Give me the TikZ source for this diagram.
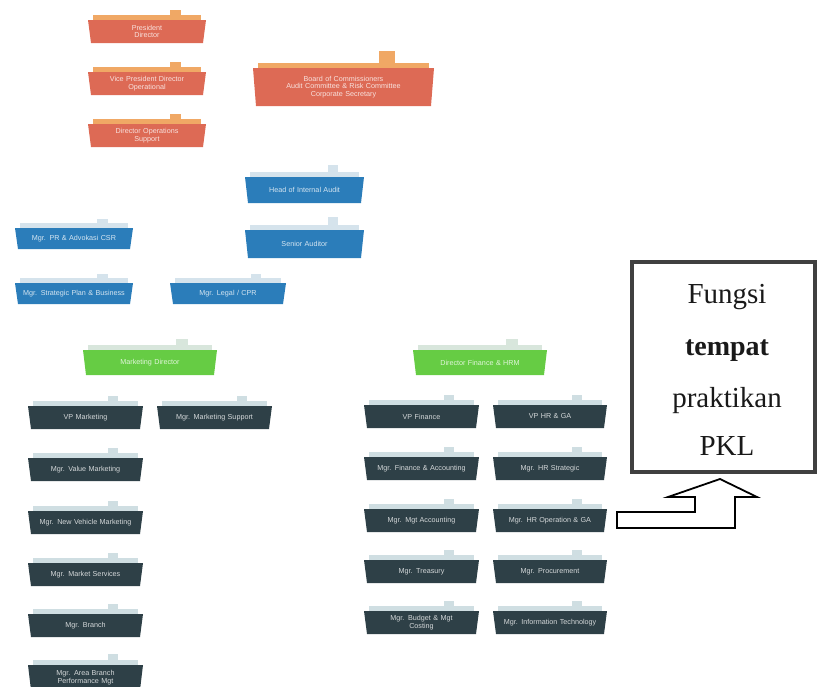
\documentclass[tikz,border=0pt]{standalone}
\usepackage{fontspec}
\setmainfont{Liberation Serif}
\setsansfont{Liberation Sans}
\definecolor{redbody}{HTML}{DD6A55}
\definecolor{redstrip}{HTML}{F0A865}
\definecolor{bluebody}{HTML}{2B7DBA}
\definecolor{bluestrip}{HTML}{D5E3EC}
\definecolor{greenbody}{HTML}{66CC44}
\definecolor{greenstrip}{HTML}{D8E6DC}
\definecolor{darkbody}{HTML}{2E4047}
\definecolor{darkstrip}{HTML}{CFDEE2}
\definecolor{pklgray}{HTML}{404040}
\tikzset{
  boxtxt/.style={font=\sffamily\fontsize{7.2}{7.8}\selectfont, text=white, text opacity=0.8, align=center, inner sep=0pt},
  pkltxt/.style={font=\fontsize{29}{32}\selectfont, anchor=base, inner sep=0pt, text=black!90},
  pklframe/.style={draw=pklgray, line width=4.5pt, fill=white},
  arrowshape/.style={draw=black, line width=1.8pt, fill=white, line join=miter}
}
% #1 name, #2 x1, #3 x2, #4 ytop, #5 ybot, #6 body colour, #7 strip colour, #8 text
\newcommand\orgbox[8]{%
  \pgfmathsetmacro\obw{#3-#2}%
  \pgfmathsetmacro\obh{#5-#4}%
  \pgfmathsetmacro\obtw{\obw-4}%
  \fill[#7] ({#2+5},{#4-5}) rectangle ({#3-5},{#4+0.5});
  \fill[#7] ({#2+0.74*\obw-0.045*\obw},{#4-0.45*\obh}) rectangle ({#2+0.74*\obw+0.045*\obw},{#4});
  \fill[#6] (#2,#4) -- (#3,#4) -- ({#3-3},#5) -- ({#2+3},#5) -- cycle;
  \node[boxtxt, text width=\obtw pt] (#1) at ({(#2+#3)/2},{(#4+#5)/2}) {#8};
}
\begin{document}
\begin{tikzpicture}[x=1pt,y=-1pt]
\useasboundingbox (0,0) rectangle (819,686);
% red group
\orgbox{r1}{88}{206}{20}{43}{redbody}{redstrip}{President\\Director}
\orgbox{r2}{88}{206}{72}{95}{redbody}{redstrip}{Vice President Director\\Operational}
\orgbox{r3}{88}{206}{124}{147}{redbody}{redstrip}{Director Operations\\Support}
\orgbox{r4}{253}{434}{68}{106}{redbody}{redstrip}{Board of Commissioners\\Audit Committee \& Risk Committee\\Corporate Secretary}
% blue group
\orgbox{b1}{245}{364}{177}{203}{bluebody}{bluestrip}{Head of Internal Audit}
\orgbox{b2}{245}{364}{230}{258}{bluebody}{bluestrip}{Senior Auditor}
\orgbox{b3}{15}{133}{228}{249}{bluebody}{bluestrip}{Mgr. PR \& Advokasi CSR}
\orgbox{b4}{15}{133}{283}{304}{bluebody}{bluestrip}{Mgr. Strategic Plan \& Business}
\orgbox{b5}{170}{286}{283}{304}{bluebody}{bluestrip}{Mgr. Legal / CPR}
% green
\orgbox{g1}{83}{217}{350}{375}{greenbody}{greenstrip}{Marketing Director}
\orgbox{g2}{413}{547}{350}{375}{greenbody}{greenstrip}{Director Finance \& HRM}
% marketing
\orgbox{m1}{28}{143}{406}{429}{darkbody}{darkstrip}{VP Marketing}
\orgbox{m2}{157}{272}{406}{429}{darkbody}{darkstrip}{Mgr. Marketing Support}
\orgbox{m3}{28}{143}{458}{481}{darkbody}{darkstrip}{Mgr. Value Marketing}
\orgbox{m4}{28}{143}{511}{534}{darkbody}{darkstrip}{Mgr. New Vehicle Marketing}
\orgbox{m5}{28}{143}{563}{586}{darkbody}{darkstrip}{Mgr. Market Services}
\orgbox{m6}{28}{143}{614}{637}{darkbody}{darkstrip}{Mgr. Branch}
\orgbox{m7}{28}{143}{665}{690}{darkbody}{darkstrip}{Mgr. Area Branch\\Performance Mgt}
% finance
\orgbox{f1}{364}{479}{405}{428}{darkbody}{darkstrip}{VP Finance}
\orgbox{f2}{493}{607}{405}{428}{darkbody}{darkstrip}{VP HR \& GA}
\orgbox{f3}{364}{479}{457}{480}{darkbody}{darkstrip}{Mgr. Finance \& Accounting}
\orgbox{f4}{493}{607}{457}{480}{darkbody}{darkstrip}{Mgr. HR Strategic}
\orgbox{f5}{364}{479}{509}{532}{darkbody}{darkstrip}{Mgr. Mgt Accounting}
\orgbox{f6}{493}{607}{509}{532}{darkbody}{darkstrip}{Mgr. HR Operation \& GA}
\orgbox{f7}{364}{479}{560}{583}{darkbody}{darkstrip}{Mgr. Treasury}
\orgbox{f8}{493}{607}{560}{583}{darkbody}{darkstrip}{Mgr. Procurement}
\orgbox{f9}{364}{479}{611}{634}{darkbody}{darkstrip}{Mgr. Budget \& Mgt\\Costing}
\orgbox{f10}{493}{607}{611}{634}{darkbody}{darkstrip}{Mgr. Information Technology}
% PKL box
\node[pklframe, minimum width=183pt, minimum height=210pt, inner sep=0pt] (pkl) at (723.5,367) {};
\node[pkltxt] (pkl1) at (727,303) {Fungsi};
\node[pkltxt, font=\bfseries\fontsize{28}{30}\selectfont] (pkl2) at (727,355) {tempat};
\node[pkltxt] (pkl3) at (727,407) {praktikan};
\node[pkltxt] (pkl4) at (727,455) {PKL};
% bent arrow
\coordinate (arrtip) at (720,479);
\draw[arrowshape] (617,512) -- (695,512) -- (695,497) -- (668,497) -- (arrtip) -- (757,497) -- (735,497) -- (735,528) -- (617,528) -- cycle;
\end{tikzpicture}
\end{document}
